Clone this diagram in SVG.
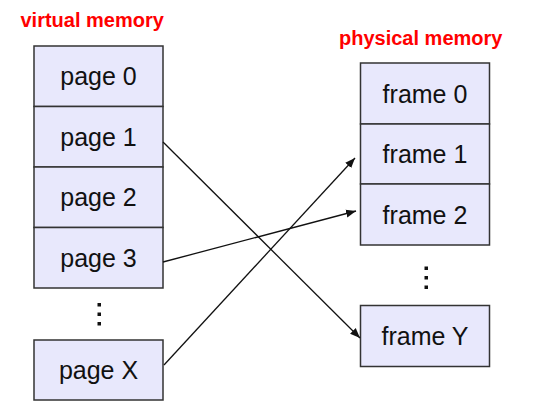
<svg xmlns="http://www.w3.org/2000/svg" width="538" height="419" viewBox="0 0 538 419">
<style>
.box{fill:#e8e8fc;stroke:#333;stroke-width:1.5}
.lbl{font-family:"Liberation Sans",Arial,sans-serif;font-size:25px;fill:#111;text-anchor:middle}
.ttl{font-family:"Liberation Sans",Arial,sans-serif;font-size:20px;font-weight:bold;fill:#f00}
.dot{fill:#111}
.conn{stroke:#111;stroke-width:1.3;fill:none}
</style>
<defs>
<marker id="ah" viewBox="0 0 10 10" refX="10" refY="5" markerWidth="10" markerHeight="10" markerUnits="userSpaceOnUse" orient="auto">
<path d="M0,1 L10,5 L0,9 Z" fill="#111"/>
</marker>
</defs>
<text class="ttl" x="20.5" y="27">virtual memory</text>
<text class="ttl" x="339" y="45">physical memory</text>
<g id="page0"><rect class="box" x="34" y="46" width="129" height="60.5"/><text class="lbl" x="98.5" y="85">page 0</text></g>
<g id="page1"><rect class="box" x="34" y="106.5" width="129" height="60.5"/><text class="lbl" x="98.5" y="145.5">page 1</text></g>
<g id="page2"><rect class="box" x="34" y="167" width="129" height="60.5"/><text class="lbl" x="98.5" y="206">page 2</text></g>
<g id="page3"><rect class="box" x="34" y="227.5" width="129" height="60.5"/><text class="lbl" x="98.5" y="266.5">page 3</text></g>
<g id="vdots"><rect class="dot" x="97.5" y="303" width="3.5" height="3.5"/><rect class="dot" x="97.5" y="312.5" width="3.5" height="3.5"/><rect class="dot" x="97.5" y="322" width="3.5" height="3.5"/></g>
<g id="pageX"><rect class="box" x="34" y="340" width="129" height="60"/><text class="lbl" x="98.5" y="379">page X</text></g>
<g id="frame0"><rect class="box" x="360.5" y="63" width="129" height="61"/><text class="lbl" x="425" y="102.5">frame 0</text></g>
<g id="frame1"><rect class="box" x="360.5" y="124" width="129" height="60"/><text class="lbl" x="425" y="163">frame 1</text></g>
<g id="frame2"><rect class="box" x="360.5" y="184" width="129" height="61"/><text class="lbl" x="425" y="223.5">frame 2</text></g>
<g id="pdots"><rect class="dot" x="424.5" y="266.5" width="3.5" height="3.5"/><rect class="dot" x="424.5" y="276" width="3.5" height="3.5"/><rect class="dot" x="424.5" y="285.5" width="3.5" height="3.5"/></g>
<g id="frameY"><rect class="box" x="360.5" y="305.5" width="129" height="61"/><text class="lbl" x="425" y="345">frame Y</text></g>
<g id="connectors">
<line class="conn" x1="163" y1="142" x2="360" y2="338" marker-end="url(#ah)"/>
<line class="conn" x1="163" y1="262" x2="356" y2="211" marker-end="url(#ah)"/>
<line class="conn" x1="164" y1="365" x2="355" y2="158" marker-end="url(#ah)"/>
</g>
</svg>
